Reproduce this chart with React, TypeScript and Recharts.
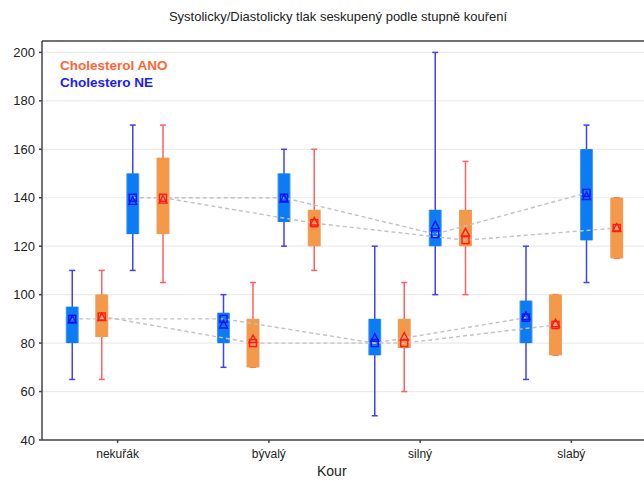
import React from 'react';
import { ComposedChart, Scatter, XAxis, YAxis, CartesianGrid, ErrorBar } from 'recharts';

const categories = ['nekuřák', 'bývalý', 'silný', 'slabý'];
const yTicks = [40, 60, 80, 100, 120, 140, 160, 180, 200];

// Diastolic, Cholesterol NE
const diaNEMin = [65, 70, 50, 65];
const diaNEQ1 = [80, 80, 75, 80];
const diaNEMed = [90, 90, 80, 90.5];
const diaNEMean = [89.5, 87.5, 82, 91];
const diaNEQ3 = [95, 92.5, 90, 97.5];
const diaNEMax = [110, 100, 120, 120];

// Diastolic, Cholesterol ANO
const diaANOMin = [65, 70, 60, 75];
const diaANOQ1 = [82.5, 70, 78, 75];
const diaANOMed = [91, 80, 80, 87.5];
const diaANOMean = [90.5, 81.5, 82.5, 88];
const diaANOQ3 = [100, 90, 90, 100];
const diaANOMax = [110, 105, 105, 100];

// Systolic, Cholesterol NE
const sysNEMin = [110, 120, 100, 105];
const sysNEQ1 = [125, 130, 120, 122.5];
const sysNEMed = [140, 140, 125, 142];
const sysNEMean = [138.5, 139.5, 128.5, 140.5];
const sysNEQ3 = [150, 150, 135, 160];
const sysNEMax = [170, 160, 200, 170];

// Systolic, Cholesterol ANO
const sysANOMin = [105, 110, 100, 115];
const sysANOQ1 = [125, 120, 120, 115];
const sysANOMed = [140, 129.5, 122.5, 127.5];
const sysANOMean = [139, 130, 125.5, 127.5];
const sysANOQ3 = [156.5, 135, 135, 140];
const sysANOMax = [170, 160, 155, 140];

const slotOffsets = [-0.3, -0.105, 0.1, 0.3];

const NE = { box: '#0b7cf2', edge: '#4a9cf6', whisker: '#4040ff', marker: '#1010ff' };
const ANO = { box: '#f4984a', edge: '#eaa060', whisker: '#ff6060', marker: '#ff1a1a' };

const series = [
  { min: diaNEMin, q1: diaNEQ1, med: diaNEMed, mean: diaNEMean, q3: diaNEQ3, max: diaNEMax, col: NE },
  { min: diaANOMin, q1: diaANOQ1, med: diaANOMed, mean: diaANOMean, q3: diaANOQ3, max: diaANOMax, col: ANO },
  { min: sysNEMin, q1: sysNEQ1, med: sysNEMed, mean: sysNEMean, q3: sysNEQ3, max: sysNEMax, col: NE },
  { min: sysANOMin, q1: sysANOQ1, med: sysANOMed, mean: sysANOMean, q3: sysANOQ3, max: sysANOMax, col: ANO },
];

const medPoints = (s: any, slot: number) =>
  categories.map((c, i) => ({
    x: i + 0.5 + slotOffsets[slot],
    y: s.med[i],
    box: [s.med[i] - s.q1[i], s.q3[i] - s.med[i]],
    wh: [s.med[i] - s.min[i], s.max[i] - s.med[i]],
  }));
const meanPoints = (s: any, slot: number) =>
  categories.map((c, i) => ({ x: i + 0.5 + slotOffsets[slot], y: s.mean[i] }));

const Empty = () => <g />;

const squareShape = (color: string) => (p: any) => (
  <rect x={p.cx - 3.5} y={p.cy - 3.5} width={7} height={7} fill="none" stroke={color} strokeWidth={1.4} />
);
const triShape = (color: string) => (p: any) => (
  <polygon
    points={`${p.cx},${p.cy - 4.5} ${p.cx - 4},${p.cy + 3} ${p.cx + 4},${p.cy + 3}`}
    fill="none"
    stroke={color}
    strokeWidth={1.4}
  />
);

const font = '"Liberation Sans", Arial, sans-serif';

export default function App() {
  return (
    <div style={{ position: 'absolute', left: 0, top: 0, width: 644, height: 481, overflow: 'hidden', background: '#fff', fontFamily: font }}>
      <ComposedChart width={660} height={481} margin={{ top: 11, right: 13, left: 0, bottom: 0 }}>
        <CartesianGrid horizontal vertical={false} stroke="#ebebeb" strokeWidth={1.2} />
        <XAxis
          xAxisId="top"
          orientation="top"
          type="number"
          domain={[0, 4]}
          ticks={[0.5, 1.5, 2.5, 3.5]}
          height={30}
          tick={false}
          tickSize={3}
          stroke="#444"
          strokeWidth={1.5}
        />
        <XAxis
          dataKey="x"
          type="number"
          domain={[0, 4]}
          ticks={[0.5, 1.5, 2.5, 3.5]}
          tickFormatter={(v: number) => categories[Math.round(v - 0.5)]}
          height={41}
          tickSize={3}
          tickMargin={6}
          tick={{ fontSize: 12, fill: '#222', fontFamily: font }}
          stroke="#444"
          strokeWidth={1.5}
          allowDataOverflow
        />
        <YAxis
          dataKey="y"
          type="number"
          domain={[40, 204.7]}
          ticks={yTicks}
          width={42}
          tickSize={3}
          tickMargin={4}
          tick={{ fontSize: 13, fill: '#222', fontFamily: font }}
          stroke="#444"
          strokeWidth={1.5}
          allowDataOverflow
        />
        {series.map((s, k) => (
          <Scatter
            key={'line' + k}
            data={medPoints(s, k)}
            shape={Empty}
            line={{ stroke: '#c2c2c2', strokeWidth: 1.4, strokeDasharray: '4 3' }}
            lineType="joint"
            isAnimationActive={false}
          />
        ))}
        {series.map((s, k) => (
          <Scatter key={'wh' + k} data={medPoints(s, k)} shape={Empty} isAnimationActive={false}>
            <ErrorBar dataKey="wh" direction="y" width={3} stroke={s.col.whisker} strokeWidth={1.5} isAnimationActive={false} />
          </Scatter>
        ))}
        {series.map((s, k) => (
          <Scatter key={'edge' + k} data={medPoints(s, k)} shape={Empty} isAnimationActive={false}>
            <ErrorBar dataKey="box" direction="y" width={0} stroke={s.col.edge} strokeWidth={13} isAnimationActive={false} />
          </Scatter>
        ))}
        {series.map((s, k) => (
          <Scatter key={'box' + k} data={medPoints(s, k)} shape={Empty} isAnimationActive={false}>
            <ErrorBar dataKey="box" direction="y" width={0} stroke={s.col.box} strokeWidth={11} isAnimationActive={false} />
          </Scatter>
        ))}
        {series.map((s, k) => (
          <Scatter key={'sq' + k} data={medPoints(s, k)} shape={squareShape(s.col.marker)} isAnimationActive={false} />
        ))}
        {series.map((s, k) => (
          <Scatter key={'tri' + k} data={meanPoints(s, k)} shape={triShape(s.col.marker)} isAnimationActive={false} />
        ))}
      </ComposedChart>
      <div style={{ position: 'absolute', left: 0, width: 676, top: 9, textAlign: 'center', fontSize: 13, color: '#222', whiteSpace: 'nowrap' }}>
        Systolicky/Diastolicky tlak seskupený podle stupně kouření
      </div>
      <div style={{ position: 'absolute', left: 60, top: 58, fontSize: 13.5, fontWeight: 'bold', color: '#ff6633', whiteSpace: 'nowrap' }}>
        Cholesterol ANO
      </div>
      <div style={{ position: 'absolute', left: 60, top: 75, fontSize: 13.5, fontWeight: 'bold', color: '#1a1aff', whiteSpace: 'nowrap' }}>
        Cholestero NE
      </div>
      <div style={{ position: 'absolute', left: 317, top: 463, fontSize: 14, lineHeight: '16px', color: '#222', whiteSpace: 'nowrap' }}>
        Kour
      </div>
    </div>
  );
}
